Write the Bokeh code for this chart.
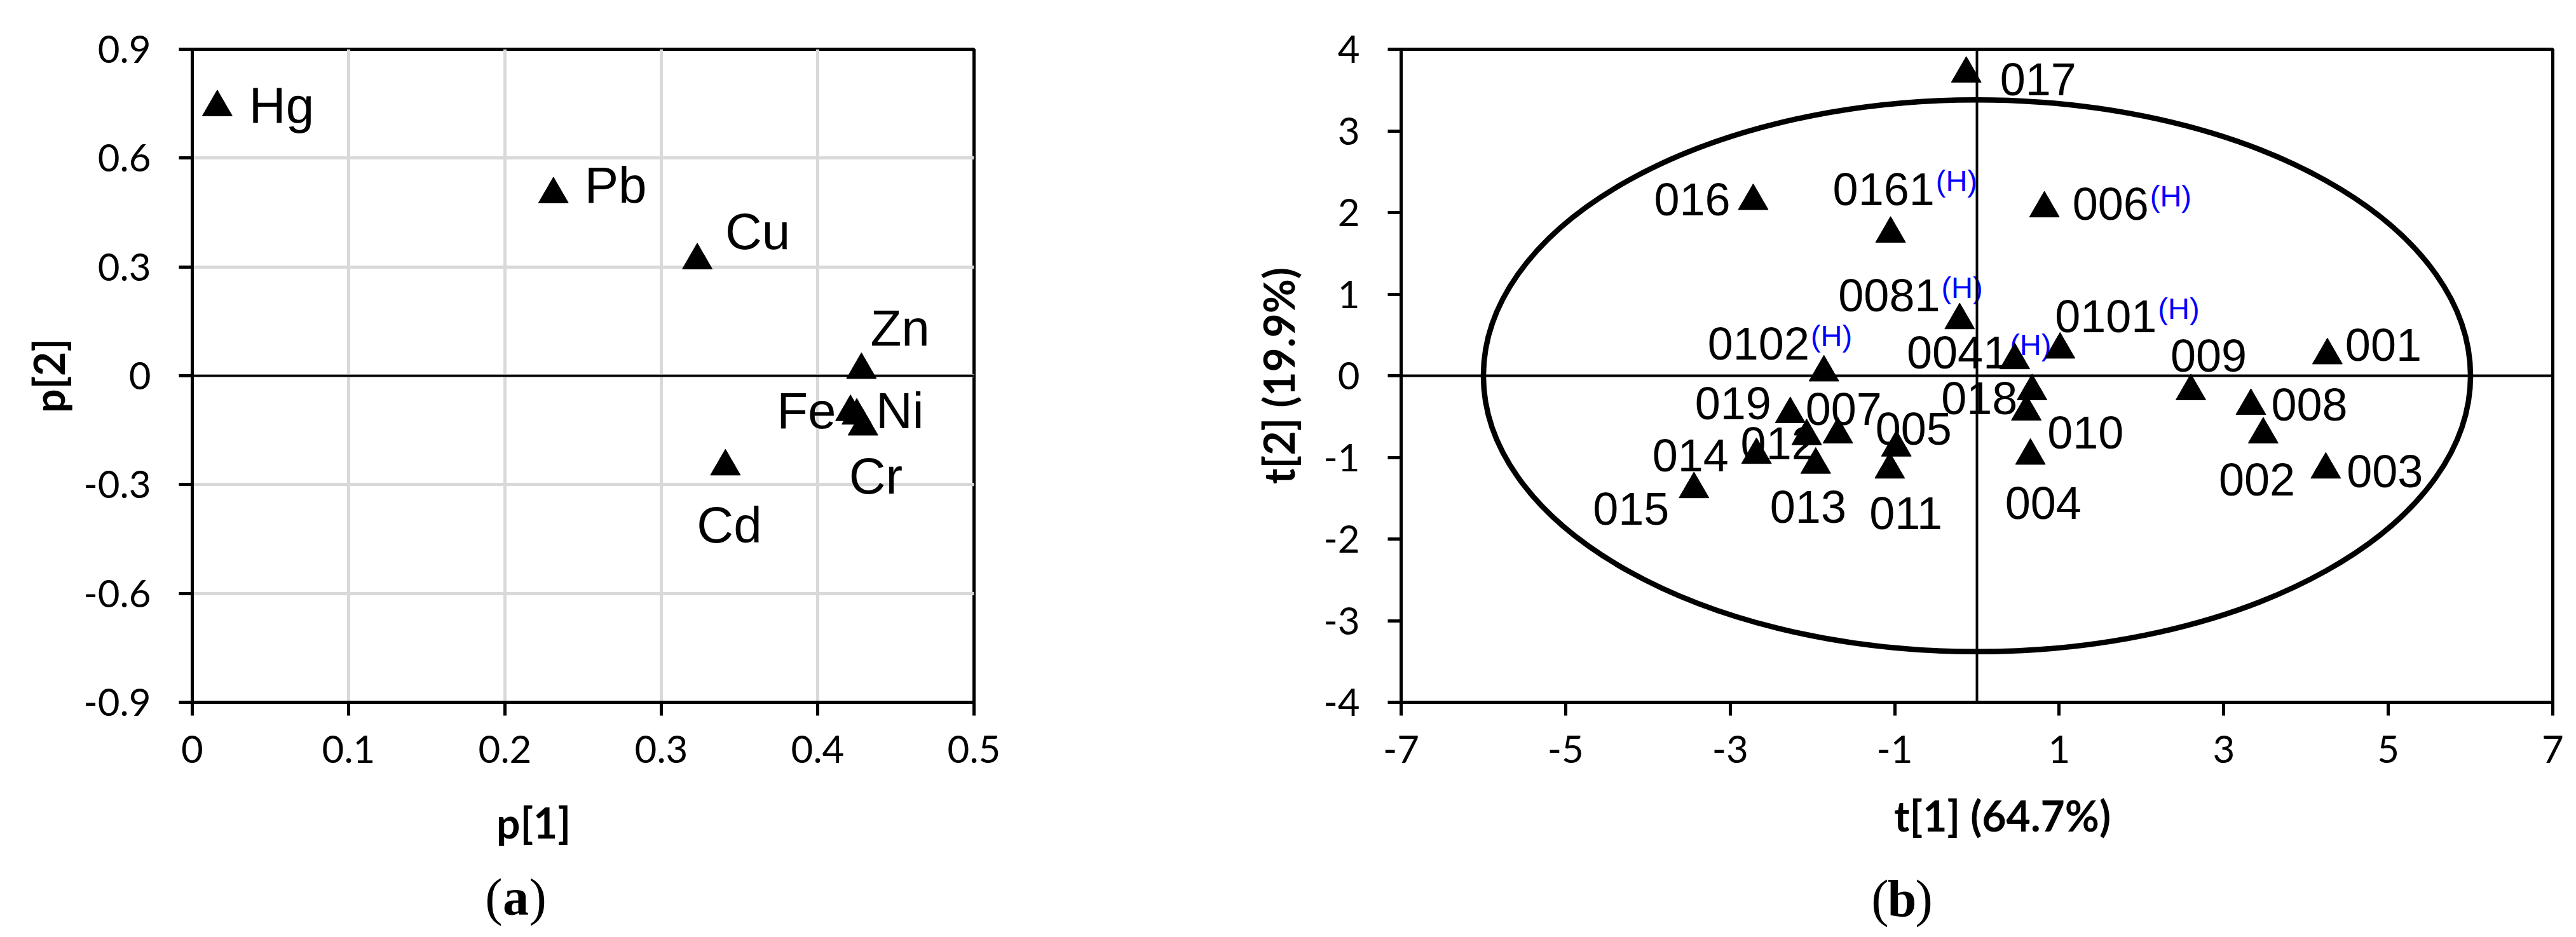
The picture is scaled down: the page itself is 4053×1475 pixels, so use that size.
from bokeh.plotting import figure
from bokeh.models import FixedTicker, Span, ColumnDataSource, Range1d
from bokeh.layouts import row, column
from bokeh.embed import file_html
from bokeh.resources import INLINE
from bokeh.core.properties import value

# ---------------- data: panel (a) loadings ----------------
metals = ["Hg", "Pb", "Cu", "Zn", "Fe", "Ni", "Cr", "Cd"]
p1_load = [0.016, 0.231, 0.323, 0.428, 0.421, 0.425, 0.429, 0.341]
p2_load = [0.740, 0.500, 0.318, 0.016, -0.100, -0.110, -0.140, -0.250]
a_x_ticks = [0, 0.1, 0.2, 0.3, 0.4, 0.5]
a_x_tick_labels = ["0", "0.1", "0.2", "0.3", "0.4", "0.5"]
a_y_ticks = [-0.9, -0.6, -0.3, 0, 0.3, 0.6, 0.9]
a_y_tick_labels = ["-0.9", "-0.6", "-0.3", "0", "0.3", "0.6", "0.9"]
a_x_title = "p[1]"
a_y_title = "p[2]"

# ---------------- data: panel (b) scores ----------------
samples = ["017", "016", "0161", "006", "0081", "0101", "0041", "0102", "001", "009",
           "008", "002", "003", "018", "010", "004", "019", "012", "007", "005",
           "011", "013", "014", "015"]
t1_score = [-0.13, -2.72, -1.05, 0.82, -0.21, 1.01, 0.46, -1.86, 4.26, 2.60,
            3.33, 3.48, 4.24, 0.67, 0.60, 0.65, -2.27, -2.07, -1.69, -0.98,
            -1.06, -1.96, -2.68, -3.44]
t2_score = [3.70, 2.14, 1.74, 2.05, 0.68, 0.32, 0.19, 0.04, 0.25, -0.19,
            -0.37, -0.72, -1.15, -0.19, -0.44, -0.98, -0.47, -0.74, -0.72, -0.88,
            -1.15, -1.09, -0.97, -1.39]
hotelling_flag = ["", "", "(H)", "(H)", "(H)", "(H)", "(H)", "(H)", "", "",
                  "", "", "", "", "", "", "", "", "", "",
                  "", "", "", ""]
b_x_ticks = [-7, -5, -3, -1, 1, 3, 5, 7]
b_x_tick_labels = ["-7", "-5", "-3", "-1", "1", "3", "5", "7"]
b_y_ticks = [-4, -3, -2, -1, 0, 1, 2, 3, 4]
b_y_tick_labels = ["-4", "-3", "-2", "-1", "0", "1", "2", "3", "4"]
b_x_title = "t[1] (64.7%)"
b_y_title = "t[2] (19.9%)"
ellipse_semi_t1 = 6.0
ellipse_semi_t2 = 3.38

panel_letters = ["a", "b"]

# ---------------- label placement (screen px offsets from the point) ----------------
a_label_dx = [50, 49, 44, 14, -116, 30, -22, -45]
a_label_dy = [-3, -14, -45, -66, -2, -8, 78, 92]
b_label_dx = [53, -156, -91, 44, -191, -8, -170, -183, 28, -32, 32, -70, 33, -143,
              33, -40, -150, -104, -51, -33, -32, -72, -164, -159]
b_label_dy = [9, -3, -70, -7, -39, -52, -12, -45, -16, -56, -2, 71, 3, 11,
              33, 75, -17, 11, -40, -30, 69, 66, 1, 31]

TICK_FONT = "Lato"
TITLE_FONT = "Lato"
TITLE_SIZE = 66
PT_FONT = "Liberation Sans"
A_LBL = 80
B_LBL = 72
SUP = 47
MARK = 47

PANEL_H = 1243


def style_axes(p):
    for ax in (p.xaxis[0], p.yaxis[0]):
        ax.axis_line_color = "black"
        ax.axis_line_width = 5
        ax.major_tick_line_color = "black"
        ax.major_tick_line_width = 5
        ax.major_tick_out = 21
        ax.major_tick_in = 0
        ax.minor_tick_line_color = None
        ax.major_label_text_font = TICK_FONT
        ax.major_label_text_font_size = "60px"
        ax.major_label_text_color = "black"
        ax.axis_label_text_font = TITLE_FONT
        ax.axis_label_text_font_style = "bold"
        ax.axis_label_text_font_size = f"{TITLE_SIZE}px"
        ax.axis_label_text_color = "black"
    p.xaxis[0].major_label_standoff = 31
    p.yaxis[0].major_label_standoff = 44
    p.outline_line_color = "black"
    p.outline_line_width = 5
    p.outline_line_alpha = 1.0


# ================= panel (a) =================
pa = figure(width=1942, height=PANEL_H, x_range=Range1d(0, 0.5), y_range=Range1d(-0.9, 0.9),
            output_backend="svg", toolbar_location=None,
            min_border_left=302, min_border_right=410, min_border_top=55,
            min_border_bottom=PANEL_H - 55 - 1050)
style_axes(pa)
pa.xaxis.ticker = FixedTicker(ticks=a_x_ticks)
pa.yaxis.ticker = FixedTicker(ticks=a_y_ticks)
pa.xaxis.major_label_overrides = dict(zip(a_x_ticks, a_x_tick_labels))
pa.yaxis.major_label_overrides = dict(zip(a_y_ticks, a_y_tick_labels))
pa.yaxis.axis_label = a_y_title
pa.yaxis.axis_label_standoff = 12
pa.xgrid.grid_line_color = "#d9d9d9"
pa.ygrid.grid_line_color = "#d9d9d9"
pa.xgrid.grid_line_width = 5
pa.ygrid.grid_line_width = 5
pa.add_layout(Span(location=0, dimension="width", line_color="black", line_width=3.5))

src_a = ColumnDataSource(dict(x=p1_load, y=p2_load, name=metals,
                              dx=a_label_dx, dy=a_label_dy))
pa.text(x="x", y="y", text="name", source=src_a, x_offset="dx", y_offset="dy",
        text_font=value(PT_FONT), text_font_size=f"{A_LBL}px", text_color="black",
        text_align="left", text_baseline="middle")
pa.scatter(x="x", y="y", source=src_a, marker="triangle", size=MARK,
           fill_color="black", line_color="black")

# ================= panel (b) =================
pb = figure(width=2095, height=PANEL_H, x_range=Range1d(-7, 7), y_range=Range1d(-4, 4),
            output_backend="svg", toolbar_location=None,
            min_border_left=262, min_border_right=21, min_border_top=77,
            min_border_bottom=PANEL_H - 77 - 1032)
style_axes(pb)
pb.xaxis.ticker = FixedTicker(ticks=b_x_ticks)
pb.yaxis.ticker = FixedTicker(ticks=b_y_ticks)
pb.xaxis.major_label_overrides = dict(zip(b_x_ticks, b_x_tick_labels))
pb.yaxis.major_label_overrides = dict(zip(b_y_ticks, b_y_tick_labels))
pb.yaxis.axis_label = b_y_title
pb.yaxis.axis_label_standoff = 28
pb.xgrid.visible = False
pb.ygrid.visible = False

pb.ellipse(x=[0], y=[0], width=[2 * ellipse_semi_t1], height=[2 * ellipse_semi_t2],
           fill_color=None, line_color="black", line_width=8.5)
pb.add_layout(Span(location=0, dimension="width", line_color="black", line_width=4))
pb.add_layout(Span(location=0, dimension="height", line_color="black", line_width=4))

sup_dx = [dx + len(s) * 0.556 * B_LBL + 2 for dx, s in zip(b_label_dx, samples)]
src_b = ColumnDataSource(dict(x=t1_score, y=t2_score, name=samples, sup=hotelling_flag,
                              dx=b_label_dx, dy=b_label_dy,
                              sdx=sup_dx, sdy=[d - 13 for d in b_label_dy]))
pb.text(x="x", y="y", text="name", source=src_b, x_offset="dx", y_offset="dy",
        text_font=value(PT_FONT), text_font_size=f"{B_LBL}px", text_color="black",
        text_align="left", text_baseline="middle")
pb.text(x="x", y="y", text="sup", source=src_b, x_offset="sdx", y_offset="sdy",
        text_font=value(PT_FONT), text_font_size=f"{SUP}px", text_color="#0000ff",
        text_align="left", text_baseline="middle")
pb.scatter(x="x", y="y", source=src_b, marker="triangle", size=MARK,
           fill_color="black", line_color="black")

# ================= caption strip: x titles and panel letters =================
CAP_TOP = 8 + PANEL_H
cap = figure(width=4037, height=1459 - PANEL_H, x_range=Range1d(8, 4045),
             y_range=Range1d(1467, CAP_TOP), output_backend="svg", toolbar_location=None,
             min_border=0, x_axis_location=None, y_axis_location=None)
cap.outline_line_color = None
cap.xgrid.visible = False
cap.ygrid.visible = False

# text centres in page pixels
title_x = [847, 3158]
title_y = [1302, 1291]
letter_x = [819, 3000]
letter_y = [1420, 1422]

cap.text(x=title_x, y=title_y, text=[a_x_title, b_x_title],
         text_font=value(TITLE_FONT), text_font_style="bold", text_font_size=f"{TITLE_SIZE}px",
         text_color="black", text_align="center", text_baseline="middle")
cap.text(x=letter_x, y=letter_y, text=panel_letters,
         text_font=value("Liberation Serif"), text_font_style="bold", text_font_size="82px",
         text_color="black", text_align="center", text_baseline="middle")
cap.text(x=[x - 21 for x in letter_x], y=letter_y, text=["(", "("],
         text_font=value("Liberation Serif"), text_font_size="82px",
         text_color="black", text_align="right", text_baseline="middle")
cap.text(x=[x + 21 for x in letter_x], y=letter_y, text=[")", ")"],
         text_font=value("Liberation Serif"), text_font_size="82px",
         text_color="black", text_align="left", text_baseline="middle")

layout = column(row(pa, pb), cap)
open("out.html", "w").write(file_html(layout, INLINE))
